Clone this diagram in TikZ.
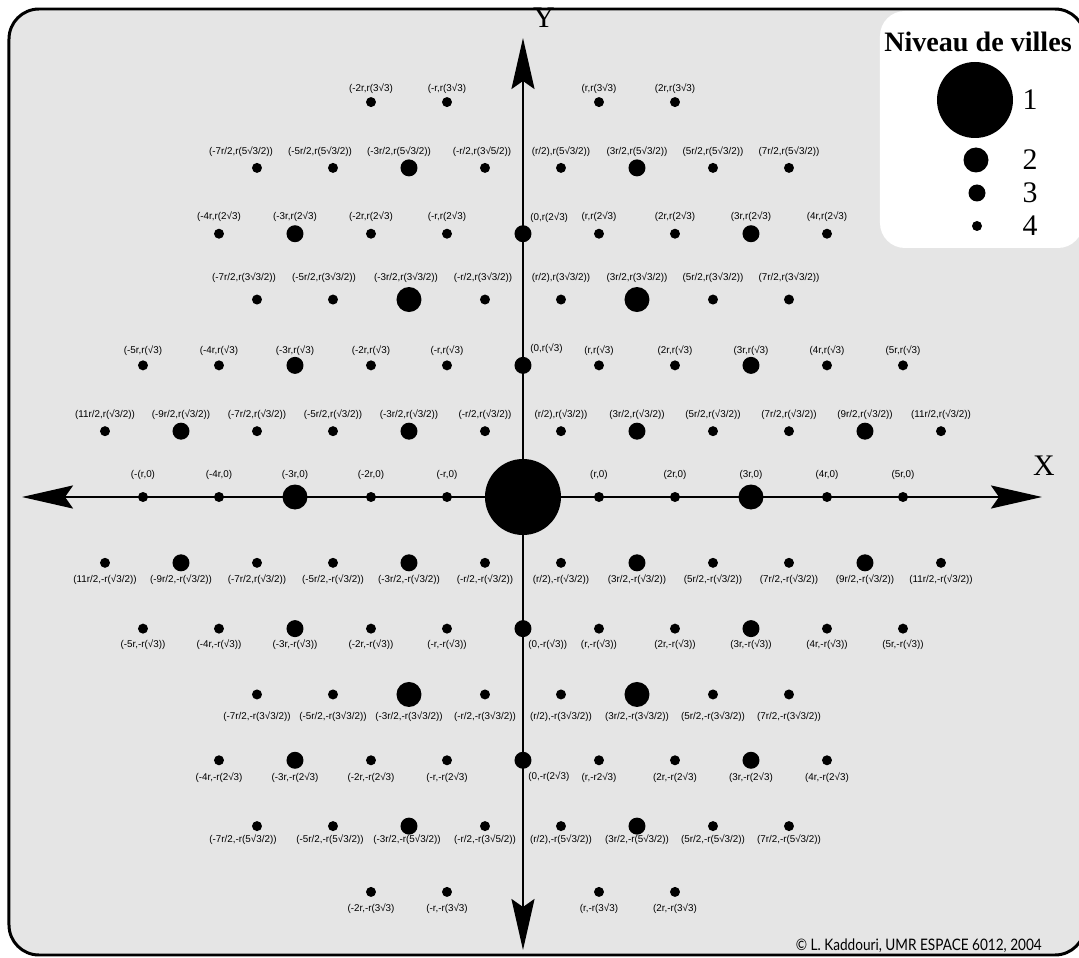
\documentclass[tikz,border=0pt]{standalone}
\usepackage{fontspec}
\setmainfont{Liberation Serif}
\newfontfamily\lblfont{Liberation Sans}
\newfontfamily\copyfont[FakeStretch=0.86]{Lato}
\usepackage{tikz}
\usetikzlibrary{arrows.meta}
\definecolor{vlGray}{RGB}{229,229,229}

\begin{document}
\begin{tikzpicture}[x=0.76cm, y=1.3164cm, >={Stealth[length=1.02cm,width=0.46cm,inset=0.16cm]},
  ville/.style={circle, fill=black, inner sep=0pt},
  ville1/.style={ville, minimum size=1.52cm},
  ville2/.style={ville, minimum size=0.5cm},
  ville3/.style={ville, minimum size=0.34cm},
  ville4/.style={ville, minimum size=0.2cm},
  lbl/.style={font=\lblfont\fontsize{5.6}{6}\selectfont, inner sep=0pt},
  num/.style={font=\fontsize{17}{17}\selectfont, inner sep=0pt},
  axe/.style={<->, line width=1.4pt}]

  \useasboundingbox (-10.46cm,-9.22cm) rectangle (11.12cm,9.94cm);
  % fond + cadre de la legende
  \fill[vlGray, rounded corners=0.6cm] (-10.28cm,-9.16cm) rectangle (11.24cm,9.76cm);
  \fill[white, rounded corners=0.5cm] (7.14cm,4.98cm) rectangle (11.2cm,9.72cm);
  \draw[line width=1.7pt, rounded corners=0.6cm] (-10.28cm,-9.16cm) rectangle (11.24cm,9.76cm);

  % axes
  \coordinate (xo) at (-10.02cm,0);
  \coordinate (xe) at (10.38cm,0);
  \coordinate (ys) at (0,-9.06cm);
  \coordinate (yn) at (0,9.18cm);
  \draw[axe] (xo) -- (xe);
  \draw[axe] (ys) -- (yn);
  \node[num] (lx) at (10.42cm,0.62cm) {X};
  \node[num] (ly) at (0.42cm,9.58cm) {Y};

  % villes du haut
  \foreach \h/\niv/\txt in {-4/4/{(-2r,r(3√3)}, -2/4/{(-r,r(3√3)}, 2/4/{(r,r(3√3)}, 4/4/{(2r,r(3√3)}} {
    \node[ville\niv] (p6x\h) at (\h,6) {};
    \node[lbl] (t6x\h) at ([yshift=0.26cm]p6x\h) {\txt};
  }
  \foreach \h/\niv/\dx/\txt in {-7/4/-0.32/{(-7r/2,r(5√3/2))}, -5/4/-0.26/{(-5r/2,r(5√3/2))}, -3/3/-0.2/{(-3r/2,r(5√3/2))},
      -1/4/-0.06/{(-r/2,r(3√5/2))}, 1/4/0/{(r/2),r(5√3/2))}, 3/3/0/{(3r/2,r(5√3/2))}, 5/4/0/{(5r/2,r(5√3/2))},
      7/4/0/{(7r/2,r(5√3/2))}} {
    \node[ville\niv] (p5x\h) at (\h,5) {};
    \node[lbl] (t5x\h) at ([xshift=\dx cm,yshift=0.32cm]p5x\h) {\txt};
  }
  \foreach \h/\niv/\txt in {-8/4/{(-4r,r(2√3)}, -6/3/{(-3r,r(2√3)}, -4/4/{(-2r,r(2√3)}, -2/4/{(-r,r(2√3)},
      2/4/{(r,r(2√3)}, 4/4/{(2r,r(2√3)}, 6/3/{(3r,r(2√3)}, 8/4/{(4r,r(2√3)}} {
    \node[ville\niv] (p4x\h) at (\h,4) {};
    \node[lbl] (t4x\h) at ([yshift=0.34cm]p4x\h) {\txt};
  }
  \foreach \h/\niv/\dx/\txt in {-7/4/-0.26/{(-7r/2,r(3√3/2))}, -5/4/-0.18/{(-5r/2,r(3√3/2))}, -3/2/-0.06/{(-3r/2,r(3√3/2))},
      -1/4/-0.04/{(-r/2,r(3√3/2))}, 1/4/0/{(r/2),r(3√3/2))}, 3/2/0/{(3r/2,r(3√3/2))}, 5/4/0/{(5r/2,r(3√3/2))},
      7/4/0/{(7r/2,r(3√3/2))}} {
    \node[ville\niv] (p3x\h) at (\h,3) {};
    \node[lbl] (t3x\h) at ([xshift=\dx cm,yshift=0.44cm]p3x\h) {\txt};
  }
  \foreach \h/\niv/\txt in {-10/4/{(-5r,r(√3)}, -8/4/{(-4r,r(√3)}, -6/3/{(-3r,r(√3)}, -4/4/{(-2r,r(√3)}, -2/4/{(-r,r(√3)},
      2/4/{(r,r(√3)}, 4/4/{(2r,r(√3)}, 6/3/{(3r,r(√3)}, 8/4/{(4r,r(√3)}, 10/4/{(5r,r(√3)}} {
    \node[ville\niv] (p2x\h) at (\h,2) {};
    \node[lbl] (t2x\h) at ([yshift=0.3cm]p2x\h) {\txt};
  }
  \foreach \h/\niv/\txt in {-11/4/{(11r/2,r(√3/2))}, -9/3/{(-9r/2,r(√3/2))}, -7/4/{(-7r/2,r(√3/2))}, -5/4/{(-5r/2,r(√3/2))},
      -3/3/{(-3r/2,r(√3/2))}, -1/4/{(-r/2,r(√3/2))}, 1/4/{(r/2),r(√3/2))}, 3/3/{(3r/2,r(√3/2))}, 5/4/{(5r/2,r(√3/2))},
      7/4/{(7r/2,r(√3/2))}, 9/3/{(9r/2,r(√3/2))}, 11/4/{(11r/2,r(√3/2))}} {
    \node[ville\niv] (p1x\h) at (\h,1) {};
    \node[lbl] (t1x\h) at ([yshift=0.34cm]p1x\h) {\txt};
  }

  % axe des X
  \node[ville1] (p0x0) at (0,0) {};
  \foreach \h/\niv/\txt in {-10/4/{(-(r,0)}, -8/4/{(-4r,0)}, -6/2/{(-3r,0)}, -4/4/{(-2r,0)}, -2/4/{(-r,0)},
      2/4/{(r,0)}, 4/4/{(2r,0)}, 6/2/{(3r,0)}, 8/4/{(4r,0)}, 10/4/{(5r,0)}} {
    \node[ville\niv] (p0x\h) at (\h,0) {};
    \node[lbl] (t0x\h) at ([yshift=0.44cm]p0x\h) {\txt};
  }

  % villes du bas
  \foreach \h/\niv/\txt in {-11/4/{(11r/2,-r(√3/2))}, -9/3/{(-9r/2,-r(√3/2))}, -7/4/{(-7r/2,r(√3/2))}, -5/4/{(-5r/2,-r(√3/2))},
      -3/3/{(-3r/2,-r(√3/2))}, -1/4/{(-r/2,-r(√3/2))}, 1/4/{(r/2),-r(√3/2))}, 3/3/{(3r/2,-r(√3/2))}, 5/4/{(5r/2,-r(√3/2))},
      7/4/{(7r/2,-r(√3/2))}, 9/3/{(9r/2,-r(√3/2))}, 11/4/{(11r/2,-r(√3/2))}} {
    \node[ville\niv] (p-1x\h) at (\h,-1) {};
    \node[lbl] (t-1x\h) at ([yshift=-0.34cm]p-1x\h) {\txt};
  }
  \foreach \h/\niv/\txt in {-10/4/{(-5r,-r(√3))}, -8/4/{(-4r,-r(√3))}, -6/3/{(-3r,-r(√3))}, -4/4/{(-2r,-r(√3))}, -2/4/{(-r,-r(√3))},
      2/4/{(r,-r(√3))}, 4/4/{(2r,-r(√3))}, 6/3/{(3r,-r(√3))}, 8/4/{(4r,-r(√3))}, 10/4/{(5r,-r(√3))}} {
    \node[ville\niv] (p-2x\h) at (\h,-2) {};
    \node[lbl] (t-2x\h) at ([yshift=-0.32cm]p-2x\h) {\txt};
  }
  \foreach \h/\niv/\txt in {-7/4/{(-7r/2,-r(3√3/2))}, -5/4/{(-5r/2,-r(3√3/2))}, -3/2/{(-3r/2,-r(3√3/2))}, -1/4/{(-r/2,-r(3√3/2))},
      1/4/{(r/2),-r(3√3/2))}, 3/2/{(3r/2,-r(3√3/2))}, 5/4/{(5r/2,-r(3√3/2))}, 7/4/{(7r/2,-r(3√3/2))}} {
    \node[ville\niv] (p-3x\h) at (\h,-3) {};
    \node[lbl] (t-3x\h) at ([yshift=-0.44cm]p-3x\h) {\txt};
  }
  \foreach \h/\niv/\txt in {-8/4/{(-4r,-r(2√3)}, -6/3/{(-3r,-r(2√3)}, -4/4/{(-2r,-r(2√3)}, -2/4/{(-r,-r(2√3)},
      2/4/{(r,-r2√3)}, 4/4/{(2r,-r(2√3)}, 6/3/{(3r,-r(2√3)}, 8/4/{(4r,-r(2√3)}} {
    \node[ville\niv] (p-4x\h) at (\h,-4) {};
    \node[lbl] (t-4x\h) at ([yshift=-0.34cm]p-4x\h) {\txt};
  }
  \foreach \h/\niv/\dx/\txt in {-7/4/-0.28/{(-7r/2,-r(5√3/2))}, -5/4/-0.06/{(-5r/2,-r(5√3/2))}, -3/3/-0.04/{(-3r/2,-r(5√3/2))},
      -1/4/0/{(-r/2,-r(3√5/2))}, 1/4/0/{(r/2),-r(5√3/2))}, 3/3/0/{(3r/2,-r(5√3/2))}, 5/4/0/{(5r/2,-r(5√3/2))},
      7/4/0/{(7r/2,-r(5√3/2))}} {
    \node[ville\niv] (p-5x\h) at (\h,-5) {};
    \node[lbl] (t-5x\h) at ([xshift=\dx cm,yshift=-0.28cm]p-5x\h) {\txt};
  }
  \foreach \h/\niv/\txt in {-4/4/{(-2r,-r(3√3)}, -2/4/{(-r,-r(3√3)}, 2/4/{(r,-r(3√3)}, 4/4/{(2r,-r(3√3)}} {
    \node[ville\niv] (p-6x\h) at (\h,-6) {};
    \node[lbl] (t-6x\h) at ([yshift=-0.34cm]p-6x\h) {\txt};
  }

  % villes sur l'axe des Y
  \foreach \k/\txt in {4/{(0,r(2√3)}, 2/{(0,r(√3)}} {
    \node[ville3] (p\k x0) at (0,\k) {};
    \node[lbl, anchor=south west] (t\k x0) at ([xshift=0.14cm,yshift=0.22cm]p\k x0) {\txt};
  }
  \foreach \k/\txt in {-2/{(0,-r(√3))}, -4/{(0,-r(2√3)}} {
    \node[ville3] (p\k x0) at (0,\k) {};
    \node[lbl, anchor=north west] (t\k x0) at ([xshift=0.1cm,yshift=-0.22cm]p\k x0) {\txt};
  }

  % legende
  \node[font=\bfseries\fontsize{16}{16}\selectfont] (titre) at (9.1cm,9.1cm) {Niveau de villes};
  \node[ville1] (leg1) at (9.04cm,7.94cm) {};
  \node[ville2] (leg2) at (9.06cm,6.74cm) {};
  \node[ville3] (leg3) at (9.08cm,6.08cm) {};
  \node[ville4] (leg4) at (9.08cm,5.42cm) {};
  \coordinate (colnum) at (10.14cm,0);
  \foreach \i in {1,...,4}
    \node[num] (n\i) at (leg\i -| colnum) {\i};

  \node[font=\copyfont\fontsize{9}{10}\selectfont, anchor=base east] (copy) at (10.5cm,-9.06cm) {© L. Kaddouri, UMR ESPACE 6012, 2004};
\end{tikzpicture}
\end{document}
